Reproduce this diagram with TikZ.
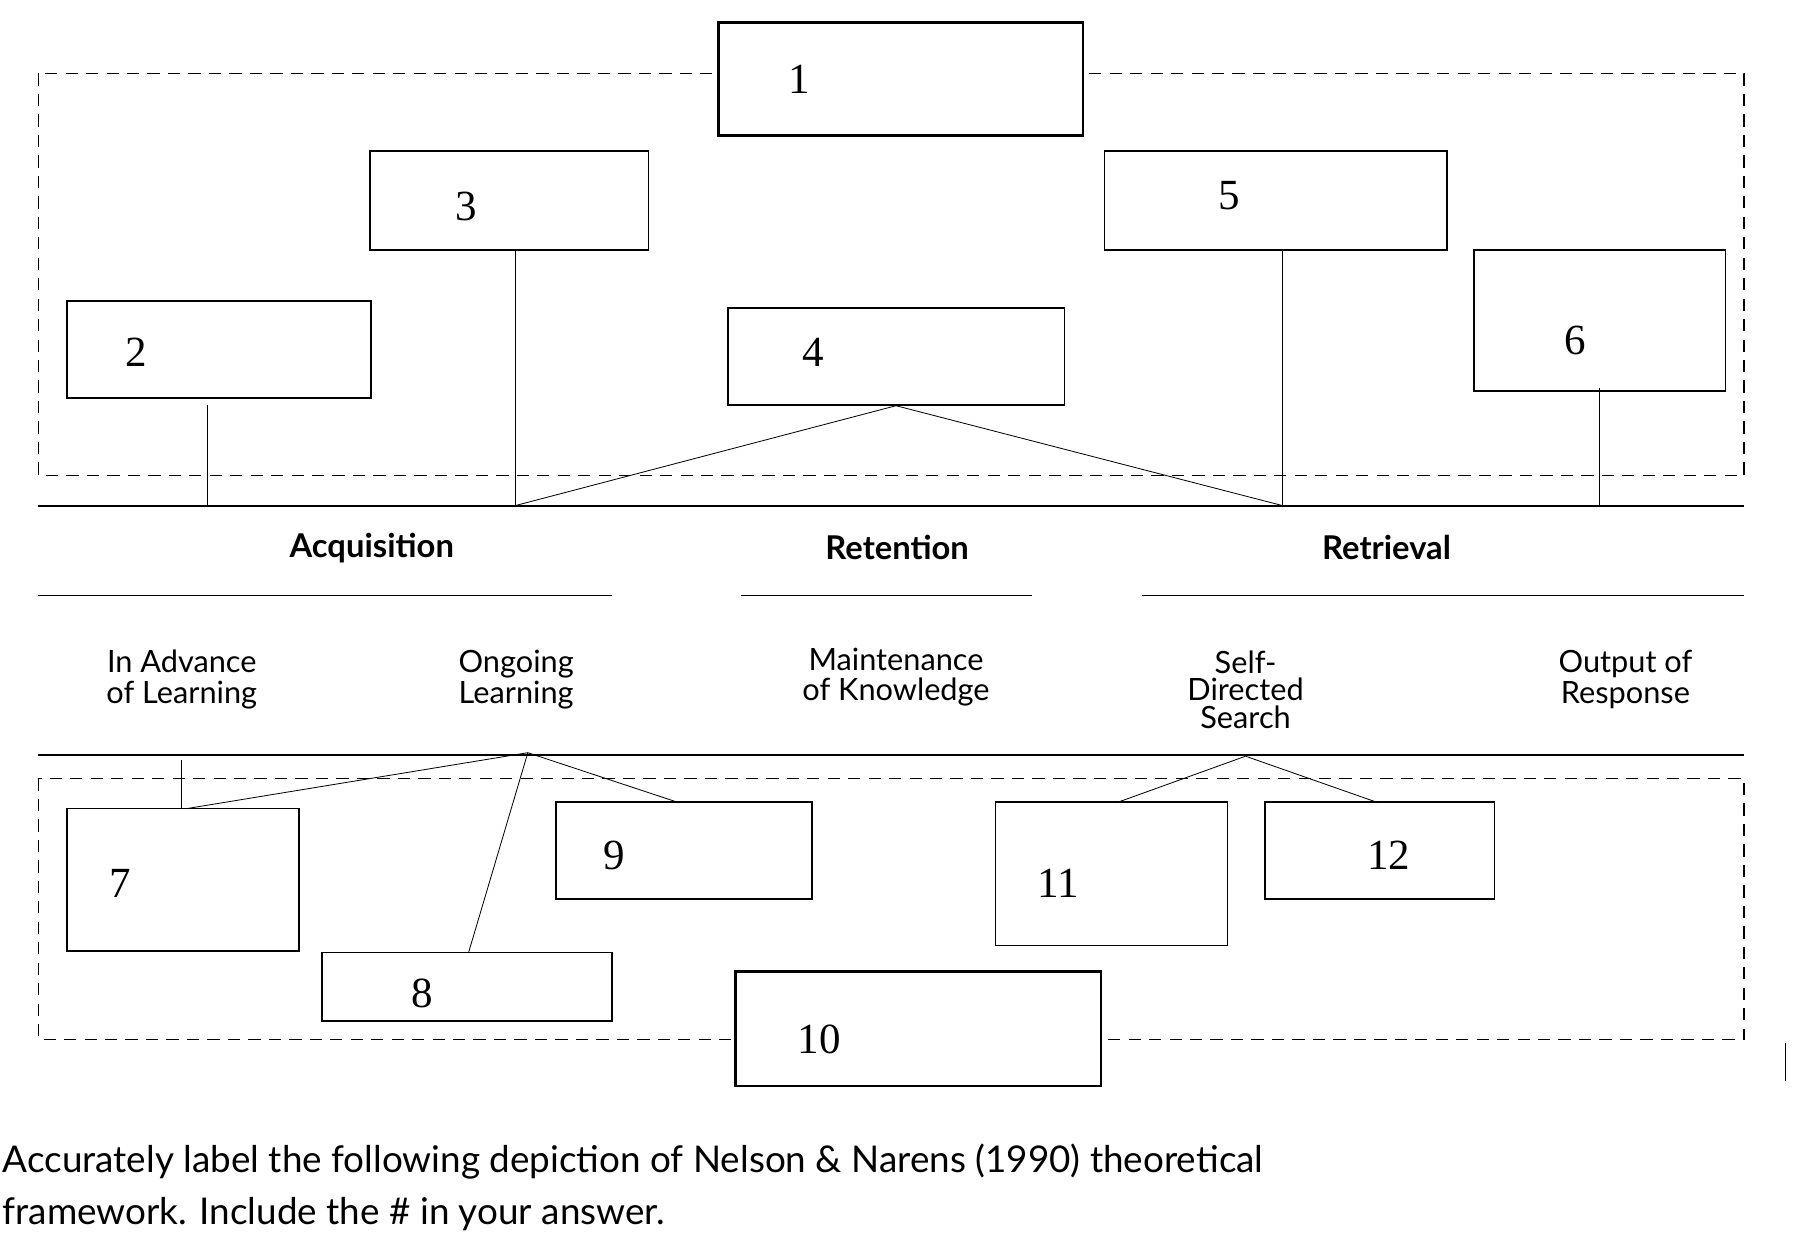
\documentclass[tikz,border=0pt]{standalone}
\usepackage{fontspec}
\setmainfont{Lato}
\newfontfamily\numfont{Liberation Serif}
\begin{document}
\begin{tikzpicture}[x=0.02cm, y=-0.02cm,
  box/.style = {draw, thick, inner sep=0pt},
  bigbox/.style = {draw, line width=1.3pt, inner sep=0pt},
  num/.style = {font=\numfont\fontsize{21}{24}\selectfont},
  lbl/.style = {font=\fontsize{15}{15}\selectfont, align=center},
  head/.style = {font=\bfseries\fontsize{16}{18}\selectfont},
  frame/.style = {draw, thick, dash pattern=on 6pt off 4pt}]
\useasboundingbox (0,0) rectangle (1550,1061);
% dashed frames
\draw [frame] (33,63) rectangle (1497,408);
\draw [frame] (33,668) rectangle (1497,892);
% upper boxes
\node [bigbox, fill=white, minimum width=6.26cm, minimum height=1.94cm] (b1) at (773,68) {};
\node [box, minimum width=4.78cm, minimum height=1.7cm] (b3) at (437,172) {};
\node [box, minimum width=5.88cm, minimum height=1.7cm] (b5) at (1095,172) {};
\node [box, minimum width=5.22cm, minimum height=1.66cm] (b2) at (188,300) {};
\node [box, minimum width=5.78cm, minimum height=1.66cm] (b4) at (769,306) {};
\node [box, minimum width=4.32cm, minimum height=2.42cm] (b6) at (1373,275) {};
\node [num] (n1) at (686,68) {1};
\node [num] (n3) at (400,177) {3};
\node [num] (n5) at (1055,168) {5};
\node [num] (n2) at (117,302) {2};
\node [num] (n4) at (698,302) {4};
\node [num] (n6) at (1352,292) {6};
% stage lines
\draw [thick] (33,434) -- (1497,434);
\draw [thick] (33,511) -- (525,511);
\draw [thick] (636,511) -- (886,511);
\draw [thick] (980,511) -- (1497,511);
\draw [thick] (33,648) -- (1497,648);
\coordinate (pA) at (178,434);
\coordinate (pB) at (442,434);
\coordinate (pC) at (1101,434);
\coordinate (pD) at (1373,434);
\draw (178,348) -- (pA);
\draw (b3.south -| pB) -- (pB);
\draw (b4.south) -- (pB);
\draw (b4.south) -- (pC);
\draw (b5.south -| pC) -- (pC);
\draw (1373,333) -- (pD);
% headings
\node [head] (acq) at (319,470) {Acquisition};
\node [head] (ret) at (770,470) {Retention};
\node [head] (rtr) at (1190,470) {Retrieval};
\node [lbl] (adv) at (156,583) {In Advance\\of Learning};
\node [lbl] (ong) at (443,583) {Ongoing\\Learning};
\node [lbl] (mnt) at (769,581) {Maintenance\\of Knowledge};
\node [lbl, font=\fontsize{15}{13.5}\selectfont] (sds) at (1069,592) {Self-\\Directed\\Search};
\node [lbl] (out) at (1395,583) {Output of\\Response};
% lower boxes
\node [box, minimum width=3.98cm, minimum height=2.44cm] (b7) at (157,755) {};
\node [box, minimum width=4.98cm, minimum height=1.18cm] (b8) at (401,847) {};
\node [box, minimum width=4.4cm, minimum height=1.66cm] (b9) at (587,730) {};
\node [bigbox, fill=white, minimum width=6.28cm, minimum height=1.96cm] (b10) at (788,883) {};
\node [box, minimum width=3.98cm, minimum height=2.46cm] (b11) at (954,750) {};
\node [box, minimum width=3.94cm, minimum height=1.66cm] (b12) at (1184,730) {};
\node [num] (n7) at (103,758) {7};
\node [num] (n8) at (362,853) {8};
\node [num] (n9) at (527,734) {9};
\node [num] (n10) at (703,892) {10};
\node [num] (n11) at (908,758) {11};
\node [num] (n12) at (1192,734) {12};
\coordinate (pE) at (453,646);
\coordinate (pF) at (1069,649);
\draw (156,652) -- (156,694);
\draw (pE) -- (160,694);
\draw (pE) -- (402,818);
\draw (pE) -- (583,689);
\draw (pF) -- (958,689);
\draw (pF) -- (1183,689);
\draw (1532,895) -- (1532,928);
% question text
\node [anchor=west, inner sep=0pt, font=\fontsize{18}{18}\selectfont] (q1) at (2,997) {Accurately label the following depiction of Nelson \& Narens (1990) theoretical};
\node [anchor=west, inner sep=0pt, font=\fontsize{18}{18}\selectfont] (q2) at (2,1042) {framework. Include the \# in your answer.};
\end{tikzpicture}
\end{document}
